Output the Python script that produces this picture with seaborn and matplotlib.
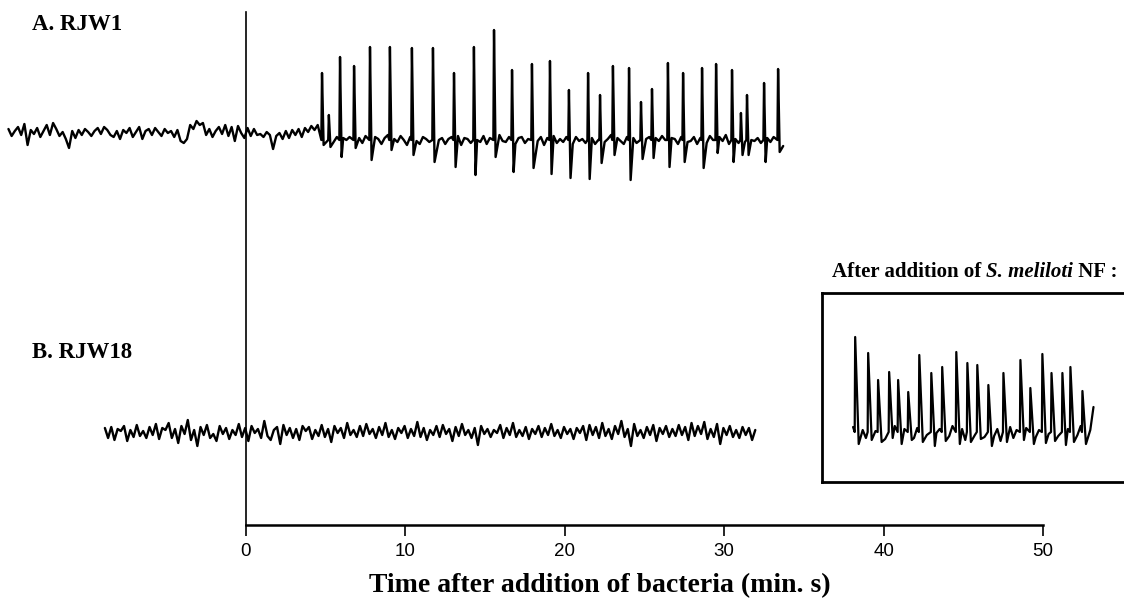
import numpy as np
import pandas as pd
import matplotlib
matplotlib.use('Agg')
import matplotlib.pyplot as plt
import seaborn as sns

# ---- trace A (RJW1), time in min, signal in arbitrary units ----
a_start = -14.9
a_base_pre = 392
a_base_post = 385
a_noise_pre = [4, -3, 2, 6, -2, 9, -12, 3, -1, 5,
               -4, 2, 8, -2, 10, 4, -3, 1, -6, -15,
               2, -5, 3, -2, 4, 1, -3, 2, 5, -1,
               6, 3, -2, -4, 2, -6, 3, 0, 5, -4,
               1, 6, -6, 2, 4, -2, 5, 1, -3, 4,
               0, 2, -4, 3, -8, -10, -6, 8, 4, 12,
               8, 10, -2, 4, -4, 2, 6, -1, 8, -3,
               6, -8, 7, 0, -5, 5, -3, 4, -2, -1,
               -4, 1, -2, -16, -3, 0, -6, 2, -5, 3,
               -2, 4, -4, 5, 1, 7, 3, 8]
a_noise_post = [2, -3, 1, 4, -2, 3, -5, 2, 0, 3, -4, 1, 2, -3, 4, -1, -2, 3, 1, -4,
                2, 5, -3, 1, -2, 4, 0, -5, 3, 2, -1, -4, 3, 1, -2, 5, -3, 0, 2, -4,
                1, 3, -2, 4, -5, 2, 1, -3, 3, 0, -2, 4, -4, 2, 1, -3, 5, -1, -2, 3,
                0, -4, 2, 3, -3, 1, 4, -2, -1, 3, -5, 2, 0, 4, -3, 1, -2, 3, 2, -4,
                3, -1, 1, -3, 4, 2, -4, 0, 3, -2, 1, 5, -3, 2, -1, -4, 3, 0, 2, -3,
                4, -2, 1, 3, -5, 2, -1, 4, 0, -3, 2, 1, -4, 3, 5, -2, -1, 3, -4, 2,
                1, -3, 4, 0, -2, 3, -1, 5, -4, 2, 1, -3, 3, -2, 4, 0, -1, 2, -3, 1,
                2, -2, 3, 1, -4, -6]
a_spike_t = [4.77, 5.20, 5.90, 6.78, 7.78, 9.03, 10.41, 11.73, 13.05, 14.30,
             15.56, 16.69, 17.94, 19.07, 20.26, 21.46, 22.21, 23.02, 24.03, 24.78,
             25.47, 26.47, 27.42, 28.61, 29.49, 30.49, 31.05, 31.43, 32.50, 33.38]
a_spike_peak = [452, 410, 468, 459, 478, 478, 477, 477, 452, 478,
                495, 455, 461, 464, 435, 452, 430, 459, 457, 423,
                436, 462, 452, 457, 461, 455, 412, 430, 442, 456]
a_spike_trough = [380, 378, 368, 377, 365, 375, 370, 363, 358, 350,
                  368, 353, 357, 351, 347, 346, 362, 370, 345, 366,
                  367, 358, 363, 357, 372, 363, 370, 370, 363, 373]

# ---- trace B (RJW18) ----
b_start = -8.85
b_base = 93
b_noise = [4, -6, 5, -8, 3, 1, 6, -9, 2, -5, 7, -4, 1, -6, 5, -3, 8, -7, 4, 2,
           9, -6, 3, -11, 6, -2, 12, -8, 2, -14, 5, -3, 7, -6, -2, -9, 6, -2, 4, -7,
           2, -3, 8, -5, 4, -9, 6, -1, 3, -6, 11, -4, -8, 2, 5, -12, 7, -3, 4, -6,
           3, -8, 6, 1, 5, -7, 2, -4, 7, -5, 3, -10, 6, -1, 4, -6, 9, -3, 2, -5,
           6, -4, 8, -2, 3, -6, 5, -3, 9, -5, 2, -7, 4, -1, 6, -6, 3, -4, 10, -5,
           4, -8, 2, -3, 6, -5, 7, -2, 3, -9, 5, -4, 8, -3, 2, -6, 4, -13, 6, -2,
           3, -5, 2, -1, 7, -6, 4, -3, 9, -5, 2, -4, 5, -7, 3, -2, 6, -5, 4, -3,
           8, -4, 2, -6, 5, -2, 3, -7, 4, -1, 6, -8, 7, -3, 5, -6, 9, -4, 3, -7,
           6, -2, 11, -5, 3, -14, 8, -4, 2, -6, 5, -3, 7, -9, 4, -2, 6, -5, 3, -4,
           7, -3, 5, -8, 9, -4, 6, -2, 10, -7, 3, -5, 8, -12, 4, -3, 6, -5, 2, -6,
           5, -3, 4, -8, 2]

# ---- inset trace (after NF addition) ----
i_base = 50
i_noise = [5, -4, -8, 2, -6, 3, -10, 1, -3, 4, -7, 2, -5, 6, -2, -9, 3, -4, 1, -6,
           4, -8, 2, -3, 5, -6, -1, 3, -7, 2, -4, 6, -2, -5, 3, -8, 1, 4, -3, -6,
           2, -5, 7, -2, -4, 3, -9, 1, -3, 5, -6, 2, -1, -7, 4, -3, 6, -5, 2, -8,
           3, -2, -6, 4, -4, 1, -7, 3, -5, 2, -3, 6, -1, -4, 2, 25]
i_spike_t = [0.13, 0.94, 1.56, 2.25, 2.81, 3.44, 4.13, 4.88, 5.56, 6.44, 7.13,
             7.75, 8.44, 9.38, 10.44, 11.06, 11.81, 12.38, 13.06, 13.56, 14.31]
i_spike_peak = [145, 129, 102, 110, 102, 90, 127, 109, 115, 130, 119,
                117, 97, 109, 122, 94, 128, 109, 109, 115, 91]
i_spike_trough = [38, 42, 40, 44, 38, 42, 40, 36, 41, 38, 40,
                  43, 36, 40, 42, 38, 39, 41, 37, 40, 38]

tick_values = [0, 10, 20, 30, 40, 50]
xlabel = 'Time after addition of bacteria (min. s)'


def build_trace(t0, step, base, noise, spike_t=(), peak=(), trough=(), rise=0.04, fall=0.1, gap=(0.1, 0.2)):
    t = t0 + step * np.arange(len(noise))
    y = base + np.array(noise, dtype=float)
    keep = np.ones(len(t), dtype=bool)
    for s in spike_t:
        keep &= ~((t > s - gap[0]) & (t < s + gap[1]))
    rows = [pd.DataFrame({'t': t[keep], 'y': y[keep]})]
    for s, p, tr in zip(spike_t, peak, trough):
        rows.append(pd.DataFrame({'t': [s - rise, s, s + fall], 'y': [base, p, tr]}))
    return pd.concat(rows).sort_values('t').reset_index(drop=True)


n_pre = len(a_noise_pre)
trace_a = pd.concat([
    build_trace(a_start, 0.2, a_base_pre, a_noise_pre),
    build_trace(a_start + 0.2 * n_pre, 0.2, a_base_post, a_noise_post,
                a_spike_t, a_spike_peak, a_spike_trough),
]).sort_values('t')
trace_b = build_trace(b_start, 0.2, b_base, b_noise)
trace_i = build_trace(0.0, 0.2, i_base, i_noise, i_spike_t, i_spike_peak,
                      i_spike_trough, rise=0.03, fall=0.22, gap=(0.1, 0.3))

sns.set_style('white')
plt.rcParams['font.family'] = ['Liberation Serif', 'DejaVu Serif']
plt.rcParams['text.color'] = 'black'
plt.rcParams['xtick.color'] = 'black'
plt.rcParams['axes.edgecolor'] = 'black'

fig = plt.figure(figsize=(11.24, 6.03), dpi=100)
ax = fig.add_axes([0, 78 / 603, 1, 525 / 603])

sns.lineplot(data=trace_a, x='t', y='y', estimator=None, sort=False,
             color='black', linewidth=1.7, ax=ax)
sns.lineplot(data=trace_b, x='t', y='y', estimator=None, sort=False,
             color='black', linewidth=1.7, ax=ax)

ax.set_xlim(-15.43, 55.08)
ax.set_ylim(0, 525)
for side in ['top', 'right']:
    ax.spines[side].set_visible(False)
ax.spines['left'].set_position(('data', 0))
ax.spines['left'].set_bounds(0, 513)
ax.spines['left'].set_linewidth(1.2)
ax.spines['bottom'].set_bounds(0, 50)
ax.spines['bottom'].set_linewidth(1.8)
ax.set_yticks([])
ax.set_xticks(tick_values)
ax.set_xticklabels([str(v) for v in tick_values], family='Liberation Sans', fontsize=13.5)
ax.tick_params(axis='x', direction='out', length=8, width=1.2, pad=5, bottom=True,
               colors='black')
ax.set_xlabel('')
ax.set_ylabel('')

fig.text(600 / 1124, 1 - 586 / 603, xlabel, ha='center', va='center',
         fontsize=20, fontweight='bold')
fig.text(32 / 1124, 1 - 25 / 603, 'A. RJW1', ha='left', va='center',
         fontsize=16.5, fontweight='bold')
fig.text(32 / 1124, 1 - 353 / 603, 'B. RJW18', ha='left', va='center',
         fontsize=16.5, fontweight='bold')

# inset title in three pieces (roman / italic / roman)
fig.canvas.draw()
renderer = fig.canvas.get_renderer()
x_px = 832
pieces = [('After addition of ', 'normal'), ('S. meliloti', 'italic'), (' NF :', 'normal')]
for txt, style in pieces:
    t = fig.text(x_px / 1124, 1 - 272 / 603, txt, ha='left', va='center',
                 fontsize=15, fontweight='bold', fontstyle=style)
    bb = t.get_window_extent(renderer)
    x_px += bb.width

axi = fig.add_axes([822 / 1124, 121 / 603, 0.30, 189 / 603])
sns.lineplot(data=trace_i, x='t', y='y', estimator=None, sort=False,
             color='black', linewidth=1.6, ax=axi)
axi.set_xlim(-1.94, 19.1)
axi.set_ylim(0, 189)
axi.set_xticks([])
axi.set_yticks([])
axi.set_xlabel('')
axi.set_ylabel('')
for side in axi.spines.values():
    side.set_visible(True)
    side.set_linewidth(2)
    side.set_color('black')

fig.savefig('out.png', dpi=100)
